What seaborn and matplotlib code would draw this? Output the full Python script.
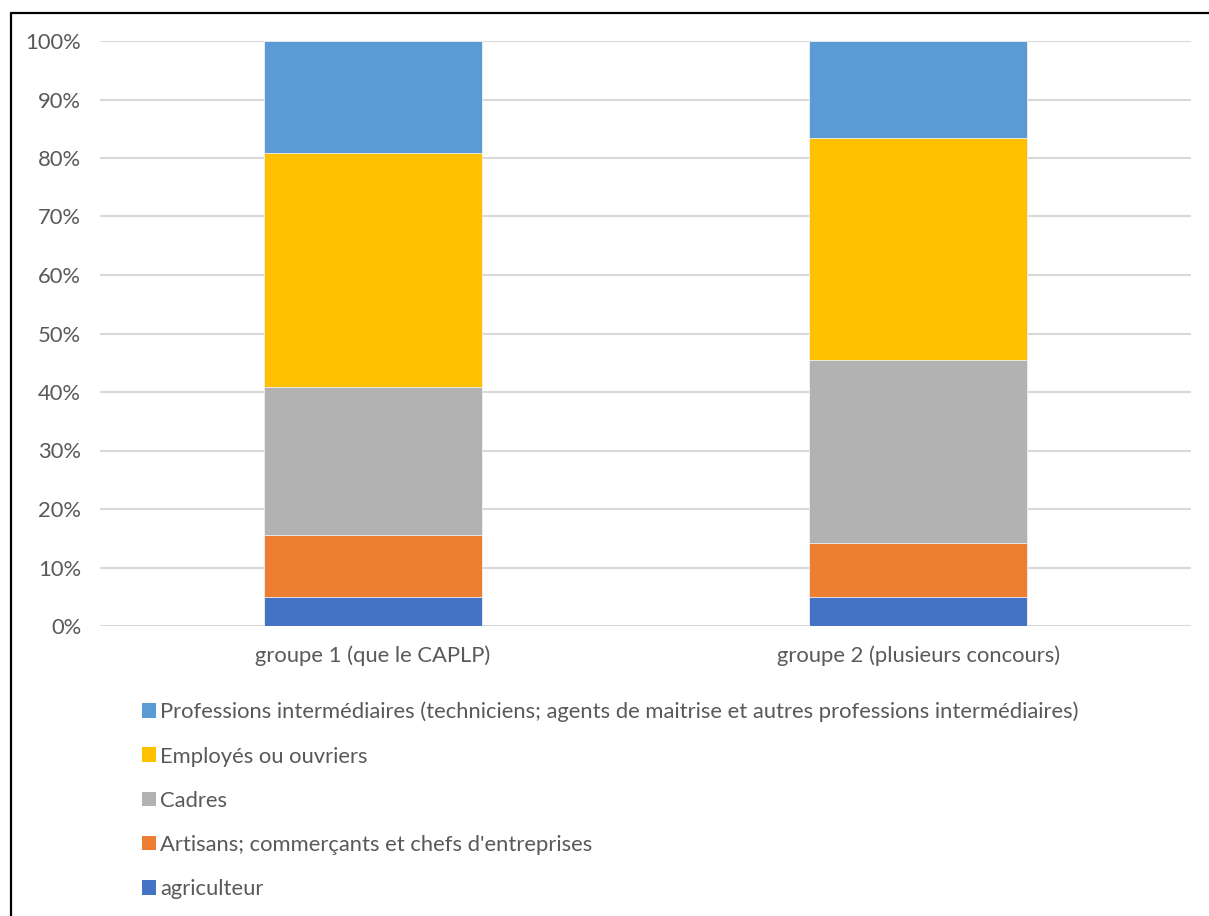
import matplotlib
matplotlib.use("Agg")
import matplotlib.pyplot as plt
import seaborn as sns
import numpy as np
import pandas as pd
from matplotlib.patches import Patch
from matplotlib.lines import Line2D

groups = ["groupe 1 (que le CAPLP)", "groupe 2 (plusieurs concours)"]
series = [
    "agriculteur",
    "Artisans; commerçants et chefs d'entreprises",
    "Cadres",
    "Employés ou ouvriers",
    "Professions intermédiaires (techniciens; agents de maitrise et autres professions intermédiaires)",
]
agriculteur = [5.0, 5.0]
artisans = [10.6, 9.2]
cadres = [25.2, 31.3]
employes = [40.0, 38.0]
prof_inter = [19.2, 16.5]
colors = ["#4472C4", "#ED7D31", "#B2B2B2", "#FFC000", "#5B9BD5"]
yticks = [0, 10, 20, 30, 40, 50, 60, 70, 80, 90, 100]
ytick_labels = [f"{t}%" for t in yticks]

values = [agriculteur, artisans, cadres, employes, prof_inter]

sns.set_style("white")
plt.rcParams["font.family"] = ["Lato", "DejaVu Sans"]
text_color = "#595959"
fs = 15.8

fig = plt.figure(figsize=(12.09, 9.16), dpi=100)
ax = fig.add_axes([100/1209, 1 - 626/916, (1191-100)/1209, (626-41)/916])

cum = np.cumsum(np.array(values), axis=0)
rows = []
for i, s in enumerate(series):
    for j, g in enumerate(groups):
        rows.append({"groupe": g, "serie": s, "cum": cum[i, j]})
df = pd.DataFrame(rows)

# draw from top (largest cumulative) down so smaller ones overlay
for i in range(len(series) - 1, -1, -1):
    sub = df[df["serie"] == series[i]]
    sns.barplot(data=sub, x="groupe", y="cum", color=colors[i], width=0.4,
                ax=ax, saturation=1, order=groups, zorder=2,
                edgecolor="#F2F2F2", linewidth=0.6)

ax.set_ylim(0, 100)
ax.set_xlim(-0.5, 1.5)
ax.set_yticks(yticks)
ax.set_yticklabels(ytick_labels)
ax.set_xlabel("")
ax.set_ylabel("")
ax.yaxis.grid(True, color="#D9D9D9", linewidth=1.5, zorder=0)
ax.set_axisbelow(True)
for sp in ax.spines.values():
    sp.set_visible(False)
ax.tick_params(axis="both", length=0, colors=text_color, labelsize=fs)
ax.tick_params(axis="y", pad=13.5)
ax.tick_params(axis="x", pad=14)

handles = [Patch(facecolor=colors[i], edgecolor="none", label=series[i])
           for i in range(len(series) - 1, -1, -1)]
leg = fig.legend(handles=handles, loc="upper left",
                 bbox_to_anchor=(133/1209, 1 - 693/916), frameon=False,
                 fontsize=fs, handlelength=0.65, handleheight=0.65,
                 handletextpad=0.2, labelspacing=1.1, borderaxespad=0)
for t in leg.get_texts():
    t.set_color(text_color)

fig.add_artist(Line2D([10.5/1209, 10.5/1209], [0, 1 - 12.5/916],
                      color="black", linewidth=1.6, transform=fig.transFigure))
fig.add_artist(Line2D([10.5/1209, 1], [1 - 12.5/916, 1 - 12.5/916],
                      color="black", linewidth=1.6, transform=fig.transFigure))

fig.savefig("out.png", dpi=100)
